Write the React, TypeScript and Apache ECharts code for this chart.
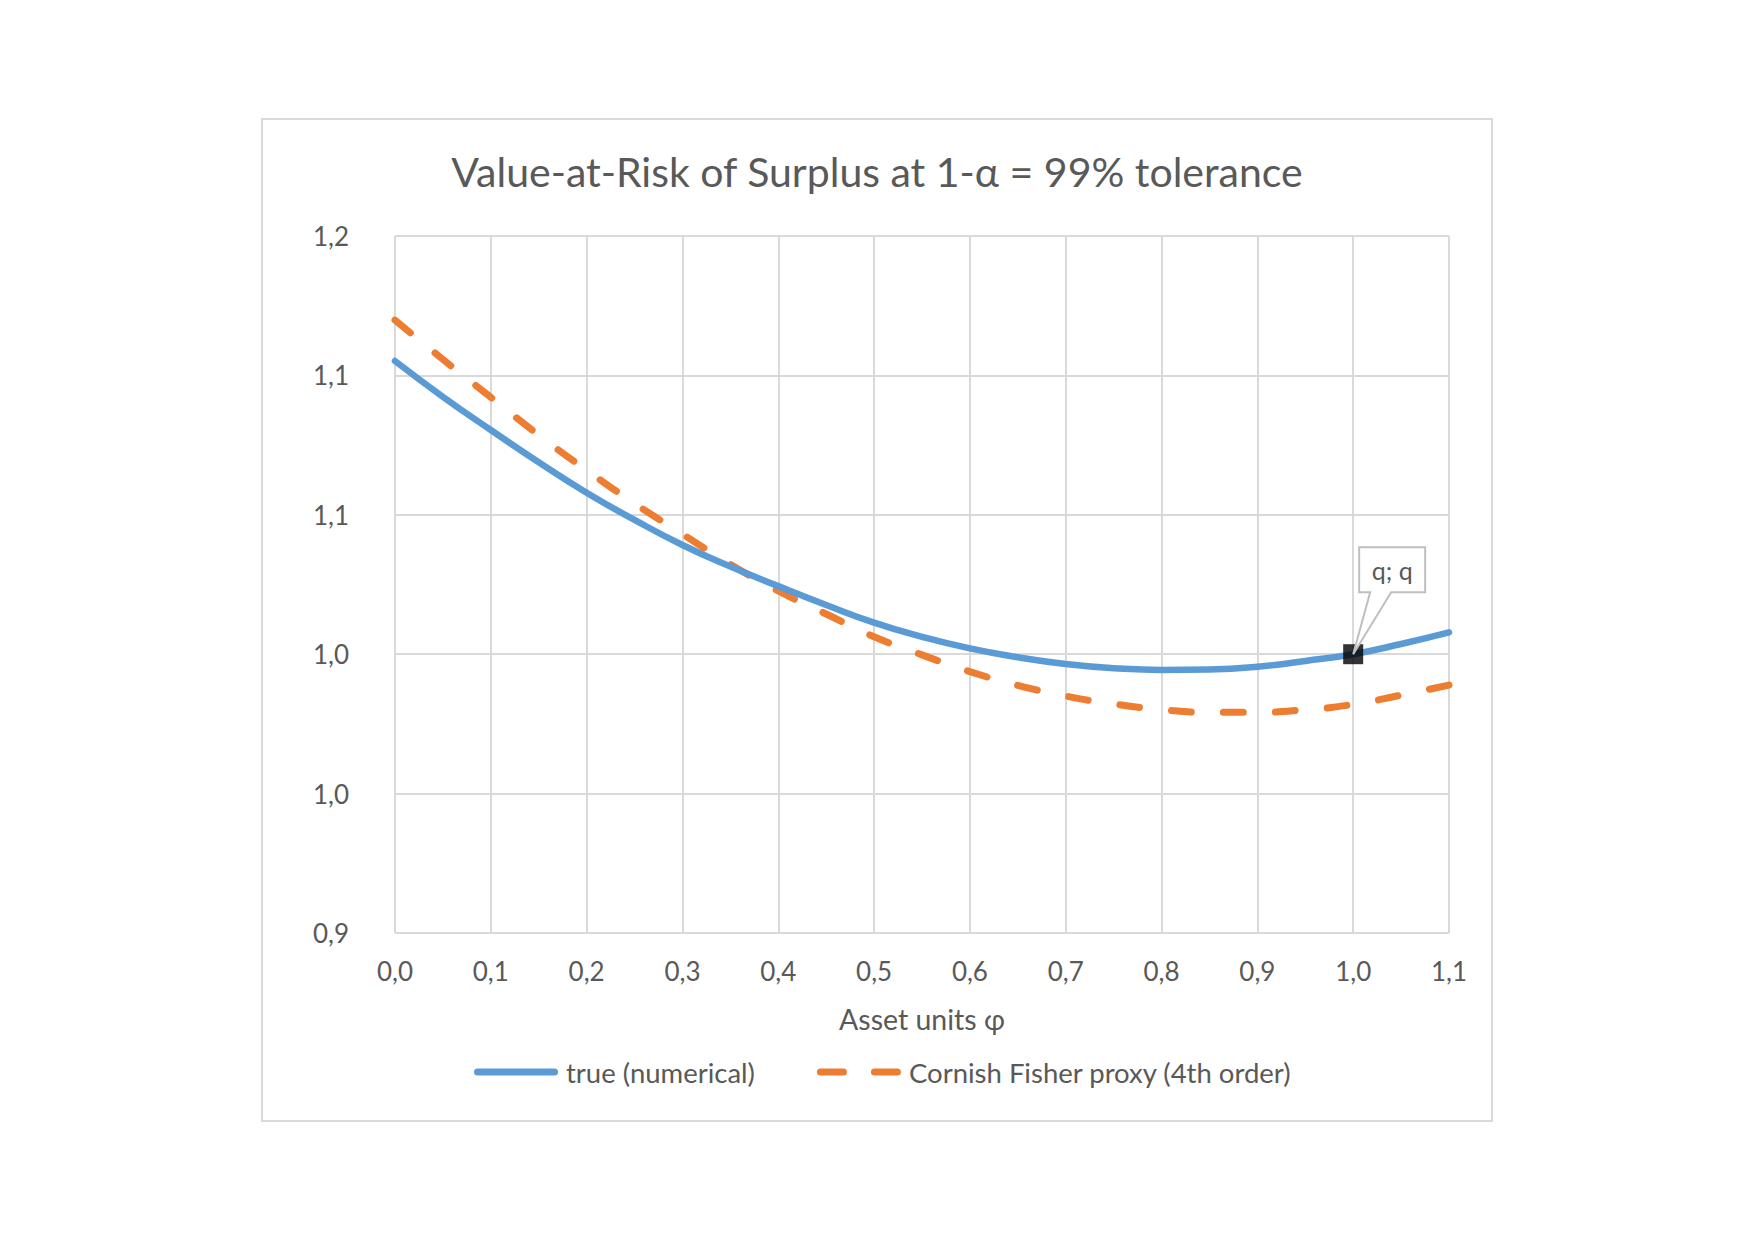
import React, { useEffect, useRef } from "react";
import * as echarts from "echarts";

// Asset units φ sampled every 0.05
const phi = [
  0.0, 0.05, 0.1, 0.15, 0.2, 0.25, 0.3, 0.35, 0.4, 0.45, 0.5, 0.55,
  0.6, 0.65, 0.7, 0.75, 0.8, 0.85, 0.9, 0.95, 1.0, 1.05, 1.1,
];

// VaR of surplus, exact numerical quantile
const trueVaR = [
  1.1462, 1.1308, 1.1165, 1.1026, 1.0895, 1.0778, 1.067, 1.0577, 1.0493,
  1.0412, 1.0336, 1.0275, 1.0225, 1.0187, 1.0158, 1.014, 1.0132, 1.0134,
  1.0146, 1.0171, 1.02, 1.0244, 1.0294,
];

// VaR of surplus, Cornish-Fisher expansion to 4th order
const cfVaR = [
  1.1638, 1.1469, 1.1306, 1.1143, 1.0992, 1.0849, 1.0717, 1.0587, 1.0472,
  1.0373, 1.0275, 1.0197, 1.0125, 1.0066, 1.002, 0.9986, 0.9962, 0.995,
  0.995, 0.9961, 0.9984, 1.0024, 1.0067,
];

const seriesNames = ["true (numerical)", "Cornish Fisher proxy (4th order)"];
const titleText = "Value-at-Risk of Surplus at 1-α = 99% tolerance";
const xAxisName = "Asset units φ";
const calloutText = "q; q";
const highlightIndex = 20; // φ = 1.0

const FONT = "Lato, 'Open Sans', sans-serif";
const TEXT = "#595959";
const GRID = "#d9d9d9";
const BLUE = "#5b9bd5";
const ORANGE = "#ed7d31";

// Legend icons: a solid rounded stroke and two rounded dashes
const ICON_SOLID =
  "path://M3.5,0h77a3.5,3.5 0 0 1 0,7h-77a3.5,3.5 0 0 1 0,-7z";
const ICON_DASHED =
  "path://M3.5,0h23a3.5,3.5 0 0 1 0,7h-23a3.5,3.5 0 0 1 0,-7z" +
  "M57.5,0h23a3.5,3.5 0 0 1 0,7h-23a3.5,3.5 0 0 1 0,-7z";

const fmt = (v: number) => v.toFixed(1).replace(".", ",");

export default function App() {
  const ref = useRef<HTMLDivElement>(null);

  useEffect(() => {
    if (!ref.current) return;
    const chart = echarts.init(ref.current, null, { renderer: "svg" });

    chart.setOption({
      animation: false,
      backgroundColor: "#ffffff",
      textStyle: { fontFamily: FONT },
      title: {
        text: titleText,
        left: "center",
        top: 146,
        textStyle: { fontFamily: FONT, fontSize: 41, fontWeight: "normal", color: TEXT },
      },
      grid: { left: 395, right: 305, top: 236, bottom: 307 },
      legend: {
        data: [
          { name: seriesNames[0], icon: ICON_SOLID, itemStyle: { color: BLUE } },
          { name: seriesNames[1], icon: ICON_DASHED, itemStyle: { color: ORANGE } },
        ],
        left: 469,
        top: 1053,
        itemWidth: 84,
        itemHeight: 7,
        itemGap: 62,
        textStyle: { fontFamily: FONT, fontSize: 27.5, color: TEXT, padding: [0, 0, 0, 3] },
      },
      xAxis: {
        type: "value",
        min: 0,
        max: 1.1,
        interval: 0.1,
        name: xAxisName,
        nameLocation: "middle",
        nameGap: 71,
        nameTextStyle: { fontFamily: FONT, fontSize: 28.5, color: TEXT },
        axisLine: { show: false },
        axisTick: { show: false },
        axisLabel: { formatter: fmt, fontFamily: FONT, fontSize: 26, color: TEXT, margin: 25 },
        splitLine: { show: true, lineStyle: { color: GRID, width: 2 } },
      },
      yAxis: {
        type: "value",
        min: 0.9,
        max: 1.2,
        interval: 0.06,
        axisLine: { show: false },
        axisTick: { show: false },
        axisLabel: { formatter: fmt, fontFamily: FONT, fontSize: 26, color: TEXT, margin: 46 },
        splitLine: { show: true, lineStyle: { color: GRID, width: 2 } },
      },
      series: [
        {
          name: seriesNames[0],
          type: "line",
          data: phi.map((x, i) => [x, trueVaR[i]]),
          smooth: true,
          symbol: "none",
          z: 3,
          itemStyle: { color: BLUE },
          lineStyle: { color: BLUE, width: 6.5, cap: "round" },
        },
        {
          name: seriesNames[1],
          type: "line",
          data: phi.map((x, i) => [x, cfVaR[i]]),
          smooth: true,
          symbol: "none",
          z: 2,
          itemStyle: { color: ORANGE },
          lineStyle: { color: ORANGE, width: 7, type: [20, 32], cap: "round" },
        },
        {
          name: "marker",
          type: "scatter",
          data: [[phi[highlightIndex], trueVaR[highlightIndex]]],
          symbol: "rect",
          symbolSize: 20,
          z: 4,
          itemStyle: { color: "#000000" },
        },
      ],
    });

    // Callout box with pointer anchored on the highlighted point
    const [px, py] = chart.convertToPixel({ gridIndex: 0 }, [
      phi[highlightIndex],
      trueVaR[highlightIndex],
    ]) as number[];
    const L = px + 6;
    const R = px + 72;
    const T = py - 107;
    const B = py - 62;
    chart.setOption({
      graphic: [
        {
          type: "rect",
          shape: { x: 262, y: 119, width: 1230, height: 1002 },
          style: { fill: "none", stroke: GRID, lineWidth: 2 },
          z: 0,
          silent: true,
        },
        {
          type: "polygon",
          shape: {
            points: [
              [L, T],
              [R, T],
              [R, B],
              [px + 38, B],
              [px, py],
              [px + 17, B],
              [L, B],
            ],
          },
          style: { fill: "#ffffff", stroke: "#bfbfbf", lineWidth: 2 },
          z: 10,
        },
        {
          type: "text",
          x: (L + R) / 2,
          y: (T + B) / 2,
          style: {
            text: calloutText,
            fontFamily: FONT,
            fontSize: 25,
            fill: TEXT,
            align: "center",
            verticalAlign: "middle",
          },
          z: 11,
        },
      ],
    });

    return () => chart.dispose();
  }, []);

  return (
    <div
      ref={ref}
      style={{ position: "fixed", left: 0, top: 0, width: 1754, height: 1240, background: "#fff" }}
    />
  );
}
